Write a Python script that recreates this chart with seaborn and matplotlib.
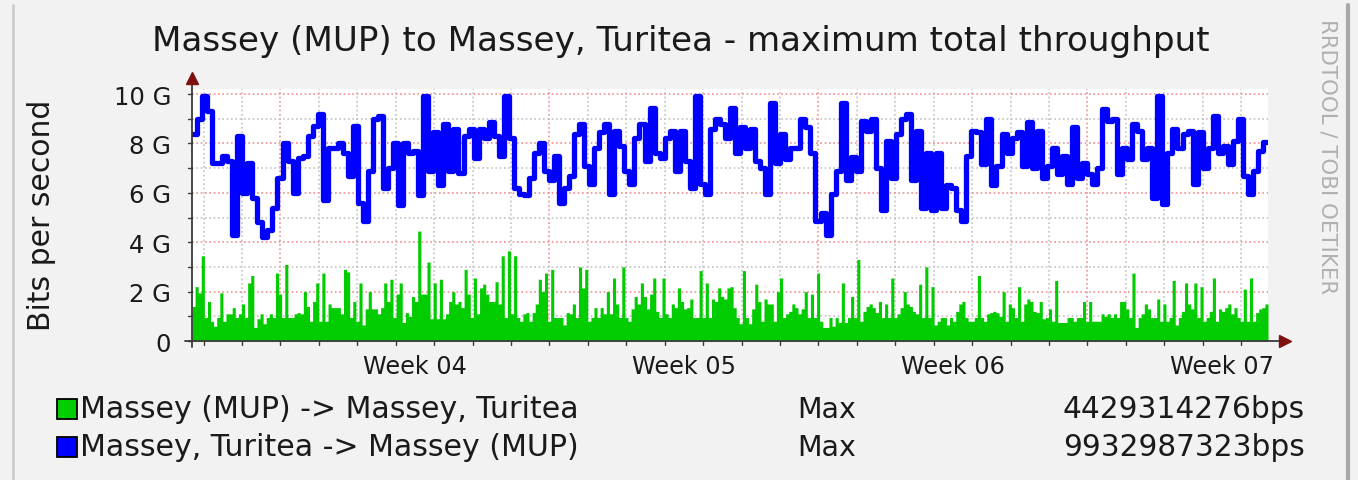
import numpy as np
import matplotlib
matplotlib.use("Agg")
import matplotlib.pyplot as plt
import seaborn as sns
import pandas as pd
from matplotlib.patches import Rectangle
from matplotlib.lines import Line2D

# ---------------- data ----------------
title = "Massey (MUP) to Massey, Turitea - maximum total throughput"
ylabel = "Bits per second"
watermark = "RRDTOOL / TOBI OETIKER"
series_names = ["Massey (MUP) -> Massey, Turitea", "Massey, Turitea -> Massey (MUP)"]
series_colors = ["#00CC00", "#0000FF"]
series_stat = ["Max", "Max"]
series_max_labels = ["4429314276bps", "9932987323bps"]
week_labels = ["Week 04", "Week 05", "Week 06", "Week 07"]
week_starts = [2.3, 9.3, 16.3, 23.3]      # days from the left edge of the graph
span_days = 28.0
ytick_values = [0, 2, 4, 6, 8, 10]
ytick_labels = ["0", "2 G", "4 G", "6 G", "8 G", "10 G"]

# Massey, Turitea -> Massey (MUP), Gbit/s
blue_gbps = [
    8.4, 9.0, 9.9, 9.3, 7.2, 7.2, 7.5, 7.3, 4.3, 8.3, 6.0, 7.2, 5.8, 4.8, 4.2, 4.5, 5.4, 6.6, 8.0, 7.3,
    6.0, 7.4, 7.5, 8.3, 8.7, 9.2, 5.7, 7.8, 7.8, 8.0,
    7.6, 6.7, 8.7, 5.6, 4.85, 6.9, 9.0, 9.1, 6.2, 7.0, 8.0, 5.5, 8.0, 7.6, 7.7, 5.9, 9.9, 6.9, 8.45, 6.3,
    8.8, 6.9, 8.6, 6.8, 8.3, 8.6, 7.4, 8.6, 8.2, 8.85,
    8.3, 7.5, 9.9, 8.2, 6.2, 5.95, 5.9, 6.6, 7.6, 8.0, 6.9, 6.5, 7.5, 5.6, 6.2, 6.7, 8.4, 8.8, 7.1, 6.35,
    7.8, 8.45, 8.8, 5.95, 8.5, 7.9, 6.9, 6.35, 8.2, 8.8,
    7.3, 9.45, 7.6, 7.4, 8.2, 8.5, 6.9, 8.5, 7.3, 6.2, 9.9, 6.35, 5.95, 8.6, 9.0, 8.8, 8.2, 9.45, 7.6, 8.65,
    7.8, 8.6, 7.3, 7.0, 5.95, 9.65, 7.2, 8.4, 7.35, 7.8,
    7.8, 9.0, 8.65, 7.6, 4.85, 5.2, 4.3, 5.95, 6.9, 9.65, 6.5, 7.45, 6.9, 8.9, 8.5, 9.0, 7.0, 5.3, 8.1, 6.6,
    8.4, 9.0, 9.2, 6.5, 8.5, 5.4, 7.6, 5.3, 7.6, 5.4,
    6.3, 6.2, 5.3, 4.85, 7.5, 8.5, 8.45, 7.15, 9.0, 6.3, 7.1, 8.4, 7.6, 8.2, 8.45, 7.1, 8.85, 7.0, 8.5, 6.6,
    7.1, 7.8, 6.75, 7.5, 6.35, 8.65, 6.6, 7.2, 6.75, 6.35, 7.0, 9.4, 8.9,
    9.0, 6.75, 7.8, 7.35, 8.8, 8.5, 7.35, 7.8, 5.8, 9.9, 5.55, 7.6, 8.6, 7.8, 8.4, 8.5, 6.35, 8.45, 7.0, 7.8,
    9.1, 7.6, 7.9, 7.15, 8.1, 9.0, 6.7, 5.95, 6.9, 7.7, 8.05,
]

# Massey (MUP) -> Massey, Turitea, Gbit/s
green_gbps = [
    1.4, 2.2, 1.95, 3.45, 0.95, 1.6, 0.8, 0.6, 0.95, 1.95, 0.8, 1.1, 1.1, 1.35, 0.95, 1.1, 1.5, 0.95, 2.35, 2.65,
    0.55, 0.9, 1.1, 0.7, 0.95, 1.1, 0.95, 2.75, 1.9, 0.95, 3.1, 0.95, 0.95, 1.1, 1.15, 1.1, 2.0, 1.4, 0.8, 1.6,
    2.35, 0.8, 2.75, 0.8, 1.5, 1.35, 1.35,
    1.35, 1.1, 2.9, 2.8, 0.95, 1.6, 0.8, 2.35, 0.65, 1.3, 2.0, 1.3, 1.3, 1.1, 1.35, 2.35, 1.6, 2.5, 0.95, 1.9,
    2.35, 0.75, 1.15, 1.0, 1.8, 1.6, 4.45, 1.9, 1.9, 3.2, 0.9, 2.35, 0.9, 2.5, 0.9, 1.1, 1.6, 2.0, 1.5, 1.6,
    1.35, 2.9, 1.9, 0.95, 2.55, 1.1, 2.15, 2.3, 1.9, 1.6,
    1.6, 2.4, 1.5, 3.45, 0.95, 3.65, 1.1, 3.45, 0.95, 0.8, 1.1, 1.15, 0.8, 1.15, 1.5, 2.5, 2.0, 2.75, 0.8, 2.9,
    0.95, 0.95, 0.95, 0.65, 1.15, 1.1, 1.5, 0.95, 3.0, 2.15, 2.9, 0.8, 0.95, 1.35, 0.95, 1.35, 1.1, 2.0, 1.1, 2.55,
    1.5, 0.95, 3.0, 0.95, 0.8, 1.3, 1.8, 1.5, 2.35, 1.8,
    1.3, 1.9, 2.55, 1.2, 0.95, 2.55, 1.1, 0.95, 1.5, 1.35, 2.15, 1.6, 1.3, 1.35, 1.7, 0.95, 0.95, 2.85, 0.95, 2.35,
    0.95, 1.7, 1.6, 2.15, 1.8, 1.7, 2.15, 2.2, 1.35, 0.95, 0.7, 2.85, 0.95, 0.7, 1.3, 2.3, 1.6, 0.8, 1.7, 1.5,
    1.5, 0.8, 2.0, 2.55, 0.95, 1.1, 1.2, 1.5, 1.35, 1.1,
    1.3, 2.0, 0.95, 1.9, 0.95, 2.75, 0.8, 0.55, 0.55, 0.95, 0.6, 0.95, 0.75, 2.35, 0.75, 0.95, 1.8, 0.95, 3.3, 0.8,
    1.2, 1.4, 1.5, 1.35, 1.15, 1.6, 0.95, 1.5, 0.95, 2.55, 0.95, 1.1, 1.35, 2.0, 1.5, 1.4, 1.2, 1.1, 2.3, 0.95,
    3.0, 0.95, 2.2, 0.65, 0.8, 0.95, 0.95, 0.65, 0.95, 0.8, 1.2, 1.5,
    1.6, 0.95, 0.8, 0.8, 0.95, 2.65, 0.95, 0.8, 1.1, 1.15, 1.2, 1.15, 1.0, 2.0, 0.8, 1.5, 1.35, 0.95, 2.2, 0.8,
    1.5, 1.7, 1.6, 1.2, 1.15, 1.6, 0.9, 0.95, 1.3, 0.8, 2.45, 0.75, 0.75, 0.75, 0.95, 0.95, 0.8, 0.95, 0.95, 1.6,
    0.8, 1.6, 0.8, 0.8, 0.8, 1.1, 1.0, 1.1, 0.95, 1.1, 0.95, 1.6,
    1.6, 1.3, 0.95, 2.75, 0.55, 0.95, 1.1, 1.5, 1.3, 0.95, 0.95, 1.7, 0.8, 1.5, 0.8, 0.95, 2.45, 0.65, 0.95, 1.2,
    2.35, 1.5, 1.3, 2.35, 0.95, 2.2, 0.8, 0.95, 1.2, 2.55, 0.8, 1.3, 1.2, 1.35, 1.5, 1.1, 1.35, 0.95, 0.8, 2.1,
    0.8, 2.55, 0.8, 1.15, 1.3, 1.35, 1.5,
]

# ---------------- style ----------------
sns.set_theme(style="white")
plt.rcParams["font.family"] = ["DejaVu Sans"]

W, H = 1358, 481
BG = "#f2f2f2"
fig = plt.figure(figsize=(W / 100, H / 100), dpi=100, facecolor=BG)

def fx(px):
    return px / W

def fy(py):
    return 1 - py / H

ax_left, ax_right, ax_top, ax_bottom = 192, 1268, 90, 342
ax = fig.add_axes([fx(ax_left), fy(ax_bottom), fx(ax_right - ax_left), (ax_bottom - ax_top) / H])
ax.set_facecolor("white")
ymax = (ax_bottom - ax_top) / 24.7
ax.set_xlim(0, span_days)
ax.set_ylim(0, ymax)

# grid
minor_col = "#c4c4c4"
major_col = "#f09090"
dots = (0, (1.0, 1.6))
days = np.arange(week_starts[0] - np.floor(week_starts[0]), span_days, 1.0)
for d in days:
    is_week = any(abs(d - w) < 1e-6 for w in week_starts)
    ax.axvline(d, color=major_col if is_week else minor_col, lw=1.2, ls=dots, zorder=1)
for g in range(1, 11):
    ax.axhline(g, color=major_col if g % 2 == 0 else minor_col, lw=1.2, ls=dots, zorder=1)

# data
nb = len(blue_gbps)
ng = len(green_gbps)
blue_df = pd.DataFrame({
    "t": np.linspace(0, span_days, nb + 1),
    "v": blue_gbps + [blue_gbps[-1]],
})
green_df = pd.DataFrame({
    "t": np.linspace(0, span_days, ng + 1),
    "v": green_gbps + [green_gbps[-1]],
})
ax.fill_between(green_df["t"], green_df["v"], 0, step="post", color=series_colors[0], lw=0, zorder=2)
sns.lineplot(data=blue_df, x="t", y="v", ax=ax, color=series_colors[1], lw=3.8,
             drawstyle="steps-post", zorder=3, estimator=None, sort=False)

# axes & ticks
for s in ax.spines.values():
    s.set_visible(False)
ax.set_xlabel("")
ax.set_ylabel("")
ax.set_yticks(ytick_values)
ax.set_yticklabels(ytick_labels, fontsize=17.5, color="#1a1a1a")
ax.set_xticks([w + 3.5 for w in week_starts])
ax.set_xticklabels(week_labels, fontsize=17.3, color="#1a1a1a")
ax.tick_params(axis="y", length=0, pad=15)
ax.tick_params(axis="x", length=0, pad=9)

axis_col = "#3a3a3a"
arrow_col = "#7f1010"
ax.plot([0, 0], [-0.25, ymax + 0.35], color=axis_col, lw=1.3, clip_on=False, zorder=4)
ax.plot([-0.18, span_days + 0.35], [0, 0], color=axis_col, lw=1.3, clip_on=False, zorder=4)
ax.plot([0], [ymax + 0.45], marker="^", ms=8, color=arrow_col, clip_on=False, zorder=5)
ax.plot([span_days + 0.45], [0], marker=">", ms=8, color=arrow_col, clip_on=False, zorder=5)
for d in days:
    ax.plot([d, d], [-0.15, 0.0], color=axis_col, lw=1.0, clip_on=False, zorder=4)
for g in range(0, 11):
    ax.plot([-0.1, 0.0], [g, g], color=axis_col, lw=1.0, clip_on=False, zorder=4)

# texts
txt = "#1a1a1a"
fig.text(fx(681), fy(42), title, ha="center", va="center", fontsize=24.6, color=txt)
fig.text(fx(42), fy(215), ylabel, ha="center", va="center", rotation=90, fontsize=21.5, color=txt)
fig.text(fx(1327), fy(157), watermark, ha="center", va="center", rotation=270, fontsize=15.3, color="#b0b0b0")

rows_y = [410, 448]
for i in range(2):
    fig.patches.append(Rectangle((fx(57), fy(rows_y[i] + 10)), fx(20), 20 / H, transform=fig.transFigure,
                                 facecolor=series_colors[i], edgecolor="black", lw=1.3))
    fig.text(fx(80), fy(rows_y[i]), series_names[i], ha="left", va="center", fontsize=21.6, color=txt)
    fig.text(fx(797), fy(rows_y[i]), series_stat[i], ha="left", va="center", fontsize=20.5, color=txt)
    fig.text(fx(1305), fy(rows_y[i]), series_max_labels[i], ha="right", va="center", fontsize=21.3, color=txt)

# canvas frame
fig.lines.append(Line2D([fx(13), fx(13)], [0, fy(6)], transform=fig.transFigure, color="#cccccc", lw=2))
fig.lines.append(Line2D([fx(1348), fx(1348)], [0, fy(6)], transform=fig.transFigure, color="#a8a8a8", lw=3))

fig.savefig("out.png", dpi=100, facecolor=BG)
